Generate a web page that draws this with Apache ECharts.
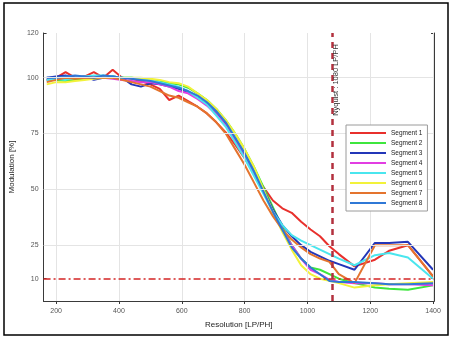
<!DOCTYPE html>
<html><head><meta charset="utf-8">
<script src="https://cdn.jsdelivr.net/npm/echarts@6/dist/echarts.min.js"></script>
<style>html,body{margin:0;padding:0;background:#fff}#c{width:450px;height:338px}</style>
</head><body><div id="c"></div>
<script>
// Shared resolution grid (LP/PH)
const resolution = [170,200,230,260,290,320,350,380,410,440,470,500,530,560,590,620,650,680,710,740,770,800,830,860,890,920,950,980,1010,1040,1070,1100,1150,1215,1260,1320,1400];

const segment1 = [99,100,102.5,100,100.5,102.5,100,103.5,100,99.5,98.5,97,95,90,92,89.5,87,84,80,75.5,70,64,57,51,45,41.5,39.5,35.5,32,29,24.5,21,15.5,18.5,22.5,25,11];
const segment2 = [99,99,98.5,99,99.5,100,100,100.5,100,100,99.5,99,98.5,97.5,97,95.5,93,90,86,81,75,68,60,51,42,33,25,19,15,14,12,10,8,6,5.5,5,7];
const segment3 = [100,100.5,101,100,100.5,99,100,100.5,100,97,96,97.5,97,96,95,93.5,91,88,84,79,73,66,58,50,41,34,29,25,22,20,18,16.5,14,26,26,26.5,14];
const segment4 = [99,99.5,100,100,100,100.5,100,99.5,99,98.5,98,98,97,96,94,93,90.5,87.5,83.5,78.5,72,65,57,49,40,32,25,19,14,12,9.5,8.5,8,8,7.5,7.5,7];
const segment5 = [99,99.5,99,100,100.5,101,101,100.5,100,100,99.5,99,98,97,96,94,91,88,83,78,71,64,56,48,40,34,29.5,27,25,23,21,19,16,20.5,21.5,19.5,10];
const segment6 = [97,98,98,98.5,99,99.5,100,100,100,100,100,99.5,99,98,97.5,96,93,90,86,81,75,68,60,50,40,31,23,16,12,10,9,8,6,7,7.5,8,8.5];
const segment7 = [98,99,100,99.5,100,100,100,100,99,98,97,96,94,92,91,89,87,84,80,75,68,61,53,45,38,32,27.5,24,21,19,17.5,12,8,25,25,25,11];
const segment8 = [100,100,100.5,101,100.5,100,101,100.5,100,99.5,99,98.5,97.5,96.5,95.5,94,92,89,85,80,73,66,58,49,40,32,24,19,15,12,9,8.5,8.5,8,7.5,7.5,8];

const segmentNames = ['Segment 1','Segment 2','Segment 3','Segment 4','Segment 5','Segment 6','Segment 7','Segment 8'];
const segmentColors = ['#e8302c','#3ee63e','#2336b8','#e23ee2','#4ae6ee','#f2f23a','#e4742e','#2f78d6'];
const segments = [segment1,segment2,segment3,segment4,segment5,segment6,segment7,segment8];

const xTicks = [200,400,600,800,1000,1200,1400];
const yTicks = [10,25,50,75,100,120];
const yGrid = [25,50,75,100];
const nyquist = 1080;
const threshold = 10;

const chart = echarts.init(document.getElementById('c'), null, {renderer:'canvas'});
const font = 'Liberation Sans, Arial, sans-serif';
const axisCommon = {
  axisLine:{show:true,lineStyle:{color:'#3a3a3a',width:1}},
  splitLine:{show:false}
};
const series = segments.map((s,i)=>({
  name: segmentNames[i], type:'line', symbol:'none', showSymbol:false,
  data: resolution.map((x,k)=>[x,s[k]]),
  lineStyle:{color:segmentColors[i],width:2}, itemStyle:{color:segmentColors[i]},
  z:3, silent:true
}));
series.unshift({
  name:'grid', type:'line', data:[], silent:true, z:1,
  markLine:{silent:true, symbol:'none', label:{show:false}, animation:false,
    lineStyle:{color:'#e4e4e4',width:1,type:'solid'},
    data: xTicks.map(v=>({xAxis:v})).concat(yGrid.map(v=>({yAxis:v})))}
});
series.push({
  name:'refs', type:'line', data:[], silent:true, z:4,
  markLine:{silent:true, symbol:'none', label:{show:false}, animation:false,
    data:[
      {yAxis:threshold, lineStyle:{color:'#d42424',width:1.5,type:[7,3,2,3]}},
      {xAxis:nyquist, lineStyle:{color:'#b3303e',width:2.5,type:[6,5]}}
    ]}
});
chart.setOption({
  animation:false,
  backgroundColor:'#fff',
  grid:{left:38,top:33,right:16,bottom:37,containLabel:false},
  legend:{
    data:segmentNames, orient:'vertical', left:346, top:125, z:20,
    icon:'path://M0,0 L36,0 L36,2 L0,2 Z',
    backgroundColor:'#fff', borderColor:'#9a9a9a', borderWidth:1,
    padding:[4,5,4,4], itemWidth:36, itemHeight:8, itemGap:2,
    textStyle:{fontSize:6.5, color:'#222', fontFamily:font, lineHeight:8}
  },
  xAxis:[
    Object.assign({type:'value', min:160, max:1403, position:'bottom',
      axisTick:{show:true,inside:true,length:3,customValues:xTicks,lineStyle:{color:'#3a3a3a'}},
      axisLabel:{customValues:xTicks,fontSize:7,color:'#555',fontFamily:font,margin:7,formatter:v=>String(v)},
      name:'Resolution [LP/PH]', nameLocation:'middle', nameGap:20,
      nameTextStyle:{fontSize:8,color:'#222',fontFamily:font}}, axisCommon),
    Object.assign({type:'value', min:160, max:1403, position:'top',
      axisTick:{show:true,inside:true,length:3,customValues:xTicks,lineStyle:{color:'#3a3a3a'}},
      axisLabel:{show:false}}, axisCommon)
  ],
  yAxis:[
    Object.assign({type:'value', min:0, max:120, position:'left',
      axisTick:{show:true,inside:true,length:3,customValues:yTicks,lineStyle:{color:'#3a3a3a'}},
      axisLabel:{customValues:yTicks,fontSize:7,color:'#555',fontFamily:font,margin:5},
      name:'Modulation [%]', nameLocation:'middle', nameGap:24, nameRotate:90,
      nameTextStyle:{fontSize:8,color:'#222',fontFamily:font}}, axisCommon),
    Object.assign({type:'value', min:0, max:120, position:'right',
      axisTick:{show:true,inside:true,length:3,customValues:yTicks,lineStyle:{color:'#3a3a3a'}},
      axisLabel:{show:false}}, axisCommon)
  ],
  series: series,
  graphic:[
    {type:'rect', shape:{x:4,y:3,width:444,height:332}, style:{fill:null,stroke:'#000',lineWidth:1.5}, silent:true, z:0},
    {type:'text', x:336, y:80, rotation:Math.PI/2, silent:true, z:10,
      style:{text:'Nyquist : 1080 LP/PH', fontSize:7.5, fill:'#333', font:'7.5px Liberation Sans, Arial, sans-serif', align:'center', verticalAlign:'middle'}}
  ]
});
</script></body></html>
